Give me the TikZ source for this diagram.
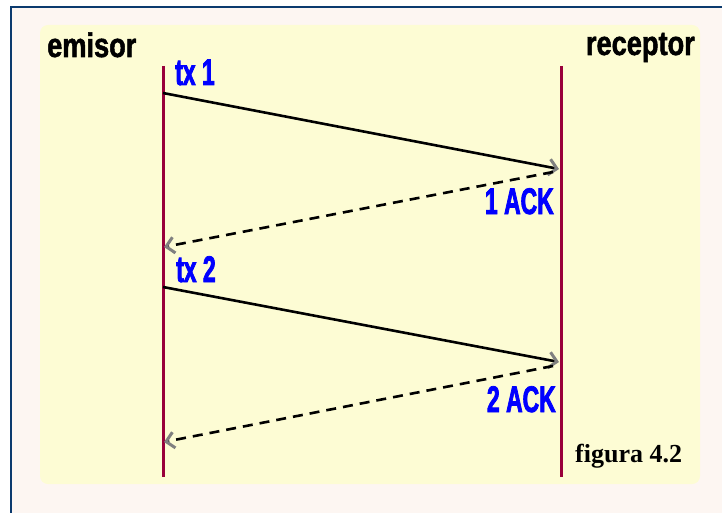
\documentclass[tikz,border=0pt]{standalone}
\usepackage{fontspec}
\usetikzlibrary{arrows.meta}
\newfontfamily\headfont[FakeStretch=0.8, FakeBold=1.5]{Liberation Sans}
\newfontfamily\labfont[FakeStretch=0.62, FakeBold=2]{Liberation Sans}
\newfontfamily\figfont{Liberation Serif}
\definecolor{frameblue}{HTML}{0B3A6E}
\definecolor{bgpink}{HTML}{FDF6F2}
\definecolor{panel}{HTML}{FDFCD4}
\definecolor{life}{HTML}{99003A}
\definecolor{lblue}{HTML}{0000FF}
\definecolor{tipgray}{HTML}{808080}
\tikzset{
  lifeline/.style={draw=life, line width=3pt},
  msg/.style={draw=black, line width=2.6pt, -{Straight Barb[length=8pt, width=16pt, line width=3pt, color=tipgray]}},
  ack/.style={msg, dash pattern=on 10pt off 7pt},
  head/.style={inner sep=0pt, font=\headfont\bfseries\fontsize{34}{38}\selectfont},
  lab/.style={inner sep=0pt, text=lblue, font=\labfont\bfseries\fontsize{37}{40}\selectfont},
  fig/.style={inner sep=0pt, font=\figfont\bfseries\fontsize{26}{30}\selectfont}
}
\begin{document}
\begin{tikzpicture}[x=1pt,y=-1pt]
\useasboundingbox (0,0) rectangle (722,513);
\fill[white] (0,0) rectangle (722,513);
\fill[bgpink] (11,7) rectangle (722,513);
\draw[frameblue, line width=2.5pt] (11,520) -- (11,7) -- (730,7);
\fill[panel, rounded corners=8pt] (40,25) rectangle (700,484);

\coordinate (eTop) at (163,66);
\coordinate (eBot) at (163,477);
\coordinate (rTop) at (561,66);
\coordinate (rBot) at (561,477);
\draw[lifeline] (eTop) -- (eBot);
\draw[lifeline] (rTop) -- (rBot);

\coordinate (s1) at (163,93);
\coordinate (t1) at (559,169);
\coordinate (a1) at (553,172);
\coordinate (b1) at (164,247);
\coordinate (s2) at (163,287);
\coordinate (t2) at (559,362);
\coordinate (a2) at (553,366);
\coordinate (b2) at (164,442);

\draw[msg] (s1) -- (t1);
\draw[ack] (a1) -- (b1);
\draw[msg] (s2) -- (t2);
\draw[ack] (a2) -- (b2);

\node[head, anchor=base west] (em) at (47,57) {emisor};
\node[head, anchor=base east] (re) at (695,55) {receptor};
\node[lab, anchor=base west] (tx1) at (175,85) {tx 1};
\node[lab, anchor=base east] (ack1) at (554,214) {1 ACK};
\node[lab, anchor=base west] (tx2) at (176,282) {tx 2};
\node[lab, anchor=base east] (ack2) at (556,412) {2 ACK};
\node[fig, anchor=base west] (fg) at (575,462) {figura 4.2};
\end{tikzpicture}
\end{document}
